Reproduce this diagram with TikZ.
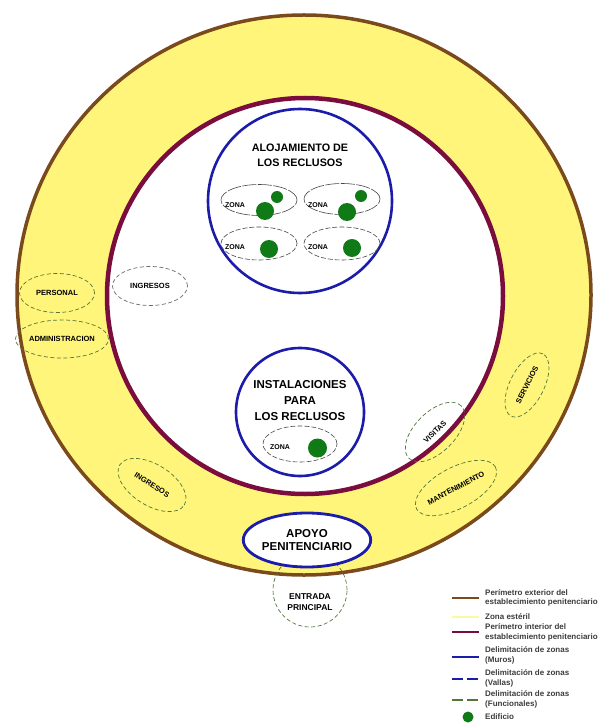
\documentclass[tikz,border=0pt]{standalone}
\usepackage{fontspec}
\setmainfont{Liberation Sans}
\usetikzlibrary{shapes.geometric}

\definecolor{esteril}{RGB}{255,245,122}
\definecolor{exterior}{RGB}{122,74,28}
\definecolor{interior}{RGB}{122,12,62}
\definecolor{muro}{RGB}{28,28,170}
\definecolor{edif}{RGB}{16,122,22}
\definecolor{funcion}{RGB}{84,118,58}
\definecolor{valla}{RGB}{72,72,72}
\definecolor{leyenda}{RGB}{60,60,60}

\newcommand{\letra}[2]{\fontsize{#1}{#2}\selectfont\bfseries}

\begin{document}
\begin{tikzpicture}[x=1pt,y=1pt,yscale=-1,
    muros/.style={circle,draw=muro,line width=2.6pt,fill=white,inner sep=0pt},
    zona/.style={ellipse,draw=valla,dash pattern=on 5pt off 2pt,line width=.6pt,minimum width=76pt,minimum height=31pt,inner sep=0pt},
    funcional/.style={ellipse,draw=funcion,dash pattern=on 4pt off 2.5pt,line width=.7pt,inner sep=0pt,font={\letra{7.5}{9}},minimum width=75pt,minimum height=39pt},
    edificio/.style={circle,fill=edif,inner sep=0pt,minimum size=#1},
    titulo/.style={align=center,inner sep=0pt},
    rotulo/.style={font={\letra{7}{8}},inner sep=0pt},
    textoley/.style={anchor=west,align=left,inner sep=0pt,text=leyenda,font={\letra{8}{9.5}}}]

    \useasboundingbox (0,0) rectangle (597,727);

    % perimetros y zona esteril
    \draw[exterior,line width=3.5pt,fill=esteril] (304,295) ellipse [x radius=287,y radius=280];
    \draw[interior,line width=4.5pt,fill=white] (305,296) circle [radius=198];

    % zonas funcionales
    \node[funcional] (personal) at (57,293) {PERSONAL};
    \node[funcional,minimum width=77pt,minimum height=38pt] (admin) at (62,339) {ADMINISTRACION};
    \node[funcional,draw=valla!80] (ingresos) at (150,286) {INGRESOS};
    \node[funcional,rotate=-32,minimum width=76pt,minimum height=41pt] (ingresos2) at (152,485) {INGRESOS};
    \node[funcional,rotate=45,minimum width=74pt,minimum height=40pt] (visitas) at (435,432) {VISITAS};
    \node[funcional,rotate=63,minimum width=70pt,minimum height=34pt] (servicios) at (527,385) {SERVICIOS};
    \node[funcional,rotate=28,minimum width=74pt,minimum height=41pt] (manten) at (456,488) {MANTENIMIENTO};
    \node[funcional,circle,minimum size=74pt] (entrada) at (310,590) {};
    \node[titulo,font={\letra{8.5}{10.5}}] (entradatxt) at (310,602) {ENTRADA\\PRINCIPAL};

    % muros
    \node[ellipse,draw=muro,line width=2.8pt,fill=white,minimum width=124pt,minimum height=54pt,inner sep=0pt,align=center,font={\letra{11.5}{13.5}}] (apoyo) at (307,540) {APOYO\\PENITENCIARIO};

    \node[muros,minimum size=184pt] (aloj) at (300,201) {};
    \node[titulo,font={\letra{10.8}{15}}] (alojtxt) at (300,155) {ALOJAMIENTO DE\\LOS RECLUSOS};

    \node[zona,dash pattern=on 14pt off 1.5pt] (zona1) at (259,200) {};
    \node[zona,dash pattern=on 14pt off 1.5pt] (zona2) at (342,199) {};
    \node[zona,minimum height=33pt] (zona3) at (259,243.5) {};
    \node[zona,minimum height=33pt] (zona4) at (342,243.5) {};
    \node[rotulo] (zt1) at (235,205) {ZONA};
    \node[rotulo] (zt2) at (318,205) {ZONA};
    \node[rotulo] (zt3) at (235,247) {ZONA};
    \node[rotulo] (zt4) at (318,247) {ZONA};
    \node[edificio=18pt] (ed1) at (265,211) {};
    \node[edificio=12pt] (ed2) at (277,197) {};
    \node[edificio=18pt] (ed3) at (347,212) {};
    \node[edificio=12pt] (ed4) at (361,196) {};
    \node[edificio=18pt] (ed5) at (269,249) {};
    \node[edificio=18pt] (ed6) at (352,248) {};

    \node[muros,minimum size=128pt] (instal) at (300,412) {};
    \node[titulo,font={\letra{11.5}{16}}] (instaltxt) at (300,401) {INSTALACIONES\\PARA\\LOS RECLUSOS};
    \node[zona,minimum width=74pt,minimum height=36pt] (zona5) at (300,444) {};
    \node[rotulo] (zt5) at (280,447) {ZONA};
    \node[edificio=19pt] (ed7) at (317.5,448) {};

    % leyenda
    \draw[exterior,line width=2.6pt] (452,598) -- (479,598);
    \node[textoley] (ley1) at (485,598) {Perímetro exterior del\\establecimiento penitenciario};
    \draw[esteril!70!white,line width=2.6pt] (452,617) -- (479,617);
    \node[textoley] (ley2) at (485,617) {Zona estéril};
    \draw[interior,line width=2.6pt] (452,632) -- (479,632);
    \node[textoley] (ley3) at (485,632.5) {Perímetro interior del\\establecimiento penitenciario};
    \draw[muro,line width=1.6pt] (452,657) -- (479,657);
    \node[textoley] (ley4) at (485,655.5) {Delimitación de zonas\\(Muros)};
    \draw[muro,line width=1.8pt,dash pattern=on 11pt off 4pt] (452,679) -- (479,679);
    \node[textoley] (ley5) at (485,678.5) {Delimitación de zonas\\(Vallas)};
    \draw[funcion,line width=1.8pt,dash pattern=on 11pt off 4pt] (452,700) -- (479,700);
    \node[textoley] (ley6) at (485,699.5) {Delimitación de zonas\\(Funcionales)};
    \node[edificio=11pt] (ley7m) at (468,717) {};
    \node[textoley] (ley7) at (485,717) {Edificio};
\end{tikzpicture}
\end{document}
